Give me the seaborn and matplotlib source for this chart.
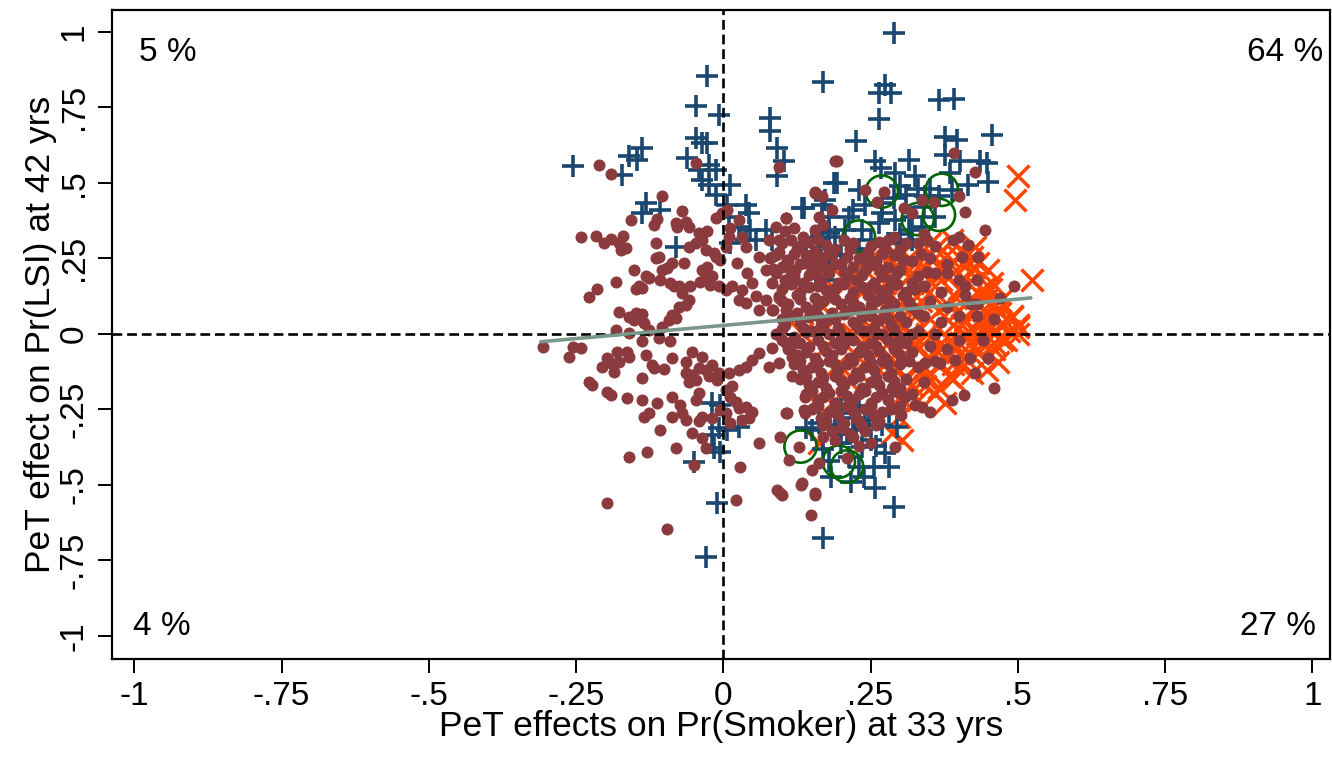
import numpy as np
import pandas as pd
import matplotlib
matplotlib.use("Agg")
import matplotlib.pyplot as plt
import seaborn as sns

sns.set_style("ticks")
plt.rcParams["font.family"] = ["Liberation Sans", "DejaVu Sans"]
plt.rcParams["text.color"] = "black"
plt.rcParams["axes.labelcolor"] = "black"
plt.rcParams["xtick.color"] = "black"
plt.rcParams["ytick.color"] = "black"

# ============================================
# DATA
# ============================================

# maroon dots: (x, y)
maroon_pts = [
    # left / upper scatter
    (-0.211, 0.56), (-0.19, 0.529), (-0.104, 0.455), (-0.07, 0.407), (-0.112, 0.38), (-0.118, 0.361),
    (-0.156, 0.377), (-0.08, 0.367), (-0.064, 0.369), (-0.059, 0.353), (-0.078, 0.355),
    (-0.241, 0.32), (-0.217, 0.325), (-0.203, 0.302), (-0.19, 0.314), (-0.177, 0.30), (-0.17, 0.325),
    (-0.174, 0.278), (-0.165, 0.284), (-0.115, 0.30), (-0.115, 0.25), (-0.109, 0.256), (-0.152, 0.212),
    (-0.132, 0.19), (-0.126, 0.184), (-0.138, 0.151), (-0.149, 0.148), (-0.143, 0.157), (-0.183, 0.173),
    (-0.214, 0.148), (-0.228, 0.122), (-0.177, 0.074), (-0.16, 0.057), (-0.149, 0.068), (-0.138, 0.066),
    (-0.152, 0.046), (-0.135, 0.035), (-0.183, 0.013), (-0.16, 0.002), (-0.126, 0.013), (-0.104, 0.024),
    (-0.092, 0.046), (-0.081, 0.052), (-0.087, 0.063), (-0.104, 0.212), (-0.095, 0.218), (-0.09, 0.168),
    (-0.084, 0.157), (-0.075, 0.157), (-0.107, 0.179), (-0.07, 0.135), (-0.059, 0.113), (-0.064, 0.096),
    (-0.075, 0.09), (-0.056, 0.157), (-0.039, 0.173), (-0.036, 0.212), (-0.027, 0.223), (-0.03, 0.19),
    (-0.019, 0.19), (-0.022, 0.162), (-0.008, 0.157), (-0.013, 0.256), (-0.005, 0.245), (-0.016, 0.267),
    (-0.03, 0.278), (-0.059, 0.289), (-0.047, 0.30), (-0.036, 0.311), (-0.042, 0.333), (-0.027, 0.339),
    (-0.067, 0.234), (-0.087, 0.234), (-0.047, 0.565), (0.094, 0.554),
    # just right of zero, upper
    (-0.002, 0.40), (-0.013, 0.383), (0.006, 0.41), (0.012, 0.35), (0.026, 0.377), (0.032, 0.322),
    (0.038, 0.289), (0.009, 0.322), (0.004, 0.289), (0.023, 0.234), (0.04, 0.201), (0.015, 0.157),
    (0.004, 0.146), (0.032, 0.146), (0.049, 0.168), (0.055, 0.124), (0.038, 0.102), (0.026, 0.113),
    (0.06, 0.256), (0.077, 0.311), (0.089, 0.355), (0.106, 0.383), (0.094, 0.311), (0.083, 0.256),
    (0.108, 0.245), (0.122, 0.212), (0.117, 0.168), (0.083, 0.168), (0.072, 0.212), (0.094, 0.124),
    (0.072, 0.113), (0.06, 0.079), (0.083, 0.079), (0.106, 0.079), (0.128, 0.124), (0.139, 0.157),
    (0.156, 0.201), (0.139, 0.234), (0.156, 0.466), (0.168, 0.455), (0.185, 0.41), (0.19, 0.571),
    (0.162, 0.388), (0.193, 0.571), (0.391, 0.60), (0.428, 0.537), (0.411, 0.405), (0.40, 0.455),
    (0.445, 0.344), (0.493, 0.157), (0.106, 0.383), (0.156, 0.471), (0.241, 0.477), (0.272, 0.471),
    (0.261, 0.438), (0.337, 0.444), (0.357, 0.438), (0.306, 0.416), (0.32, 0.40), (0.40, 0.322),
    (0.416, 0.295), (0.433, 0.256), (0.405, 0.256),
    # left, lower
    (-0.307, -0.042), (-0.256, -0.042), (-0.242, -0.047), (-0.262, -0.075), (-0.197, -0.08),
    (-0.191, -0.097), (-0.206, -0.108), (-0.18, -0.059), (-0.163, -0.059), (-0.16, -0.075),
    (-0.177, -0.092), (-0.186, -0.125), (-0.228, -0.158), (-0.223, -0.169), (-0.197, -0.191),
    (-0.191, -0.202), (-0.163, -0.213), (-0.138, -0.147), (-0.132, -0.07), (-0.138, -0.025),
    (-0.11, -0.014), (-0.09, -0.025), (-0.087, -0.081), (-0.121, -0.103), (-0.118, -0.114),
    (-0.101, -0.117), (-0.064, -0.092), (-0.053, -0.059), (-0.036, -0.075), (-0.042, -0.114),
    (-0.064, -0.13), (-0.053, -0.136), (-0.047, -0.152), (-0.059, -0.158), (-0.03, -0.119),
    (-0.025, -0.141), (-0.008, -0.13), (-0.011, -0.152), (-0.019, -0.103), (-0.138, -0.219),
    (-0.112, -0.229), (-0.087, -0.208), (-0.073, -0.235), (-0.07, -0.263), (-0.087, -0.274),
    (-0.064, -0.285), (-0.126, -0.263), (-0.135, -0.274), (-0.042, -0.196), (-0.047, -0.219),
    (-0.036, -0.274), (-0.042, -0.29), (-0.019, -0.279), (-0.005, -0.252), (-0.107, -0.318),
    (-0.081, -0.378), (-0.053, -0.329), (-0.03, -0.378), (-0.036, -0.345), (-0.05, -0.434),
    (-0.129, -0.39), (-0.16, -0.406), (-0.197, -0.561), (-0.095, -0.646),
    # just right of zero, lower
    (0.004, -0.185), (0.012, -0.208), (0.021, -0.224), (0.026, -0.246), (0.038, -0.241),
    (0.049, -0.257), (0.043, -0.279), (0.032, -0.285), (0.012, -0.296), (0.06, -0.362),
    (0.029, -0.439), (0.021, -0.55), (0.004, -0.263), (0.015, -0.174), (0.009, -0.13),
    (0.026, -0.119), (0.038, -0.108), (0.049, -0.086), (0.06, -0.064), (0.083, -0.047),
    (0.106, -0.031), (0.094, -0.097), (0.077, -0.108), (0.117, -0.075), (0.108, -0.263),
    (0.097, -0.34), (0.111, -0.417), (0.128, -0.373), (0.134, -0.494), (0.091, -0.517),
    (0.10, -0.533), (0.156, -0.533), (0.148, -0.599), (0.117, -0.141), (0.139, -0.208),
    (0.156, -0.241), (0.139, -0.263), (0.106, -0.263), (0.131, -0.50), (0.156, -0.527),
    (0.097, -0.527), (0.151, -0.45), (0.162, -0.428), (0.137, -0.252), (0.459, -0.18),
    (0.408, -0.202), (0.388, -0.219), (0.337, -0.241), (0.326, -0.235), (0.351, -0.257),
    (0.309, -0.208), (0.298, -0.196), (0.286, -0.18), (0.301, -0.268), (0.292, -0.373),
    (0.343, -0.097), (0.368, -0.097), (0.394, -0.086), (0.419, -0.081), (0.428, -0.13),
    (0.46, 0.05), (0.44, -0.02), (0.47, 0.12), (0.43, 0.10), (0.45, -0.08), (0.41, 0.16),
    (0.43, 0.18), (0.38, 0.20), (0.40, 0.06),
    # dense core
    (0.12, 0.35), (0.17, 0.36), (0.34, 0.33),
    (0.10, 0.30), (0.13, 0.29), (0.16, 0.31), (0.19, 0.28), (0.22, 0.30), (0.25, 0.29), (0.28, 0.31),
    (0.30, 0.28), (0.33, 0.30), (0.36, 0.29), (0.39, 0.31),
    (0.08, 0.25), (0.11, 0.24), (0.14, 0.26), (0.17, 0.25), (0.20, 0.23), (0.23, 0.25), (0.26, 0.24),
    (0.29, 0.26), (0.32, 0.24), (0.35, 0.25), (0.38, 0.23),
    (0.09, 0.20), (0.12, 0.19), (0.15, 0.21), (0.18, 0.20), (0.21, 0.19), (0.24, 0.21), (0.27, 0.19),
    (0.30, 0.21), (0.33, 0.19), (0.36, 0.20), (0.40, 0.18),
    (0.10, 0.15), (0.13, 0.14), (0.16, 0.16), (0.19, 0.15), (0.22, 0.14), (0.25, 0.16), (0.28, 0.15),
    (0.31, 0.14), (0.34, 0.16), (0.37, 0.14), (0.41, 0.13),
    (0.11, 0.10), (0.14, 0.09), (0.17, 0.11), (0.20, 0.10), (0.23, 0.09), (0.26, 0.11), (0.29, 0.10),
    (0.32, 0.09), (0.35, 0.11), (0.38, 0.09), (0.42, 0.10),
    (0.10, 0.05), (0.13, 0.04), (0.16, 0.06), (0.19, 0.05), (0.22, 0.04), (0.25, 0.06), (0.28, 0.05),
    (0.31, 0.04), (0.34, 0.06), (0.37, 0.04), (0.43, 0.06),
    (0.09, 0.00), (0.12, -0.01), (0.15, 0.01), (0.18, 0.00), (0.21, -0.01), (0.24, 0.01), (0.27, 0.00),
    (0.30, -0.01), (0.33, 0.01), (0.36, 0.00), (0.40, -0.02),
    (0.11, -0.05), (0.14, -0.06), (0.17, -0.04), (0.20, -0.05), (0.23, -0.06), (0.26, -0.04),
    (0.29, -0.05), (0.32, -0.06), (0.35, -0.04), (0.38, -0.05),
    (0.12, -0.10), (0.15, -0.11), (0.18, -0.09), (0.21, -0.10), (0.24, -0.11), (0.27, -0.09),
    (0.30, -0.10), (0.33, -0.11), (0.36, -0.09),
    (0.13, -0.15), (0.16, -0.16), (0.19, -0.14), (0.22, -0.15), (0.25, -0.16), (0.28, -0.14),
    (0.31, -0.15), (0.34, -0.16),
    (0.14, -0.20), (0.17, -0.21), (0.20, -0.19), (0.23, -0.20), (0.26, -0.21), (0.29, -0.19), (0.32, -0.20),
    (0.15, -0.25), (0.18, -0.26), (0.21, -0.24), (0.24, -0.25), (0.27, -0.26), (0.30, -0.24),
    (0.17, -0.30), (0.20, -0.31), (0.23, -0.29), (0.26, -0.30),
    (0.19, -0.35), (0.22, -0.34), (0.25, -0.36),
    (0.135, 0.32), (0.29, 0.32),
    (0.095, 0.27), (0.125, 0.28), (0.155, 0.27), (0.185, 0.26), (0.215, 0.28), (0.245, 0.27), (0.275, 0.28),
    (0.10, 0.22), (0.13, 0.23), (0.16, 0.22), (0.19, 0.23), (0.22, 0.22), (0.25, 0.23), (0.28, 0.22),
    (0.105, 0.18), (0.135, 0.17), (0.165, 0.18), (0.195, 0.17), (0.225, 0.18), (0.255, 0.17),
    (0.285, 0.18), (0.32, 0.17),
    (0.095, 0.12), (0.125, 0.13), (0.155, 0.12), (0.185, 0.13), (0.215, 0.12), (0.245, 0.13),
    (0.275, 0.12), (0.305, 0.13),
    (0.085, 0.08), (0.125, 0.07), (0.155, 0.08), (0.185, 0.07), (0.215, 0.08), (0.245, 0.07),
    (0.275, 0.08), (0.33, 0.07),
    (0.105, 0.03), (0.135, 0.02), (0.165, 0.03), (0.195, 0.02), (0.225, 0.03), (0.255, 0.02), (0.285, 0.03),
    (0.10, -0.02), (0.13, -0.03), (0.16, -0.02), (0.19, -0.03), (0.22, -0.02), (0.25, -0.03),
    (0.28, -0.02), (0.31, -0.03),
    (0.125, -0.07), (0.155, -0.08), (0.185, -0.07), (0.215, -0.08), (0.245, -0.07), (0.275, -0.08), (0.30, -0.07),
    (0.135, -0.12), (0.165, -0.13), (0.195, -0.12), (0.225, -0.13), (0.255, -0.12), (0.285, -0.13),
    (0.145, -0.17), (0.175, -0.18), (0.205, -0.17), (0.235, -0.18), (0.265, -0.17), (0.30, -0.18),
    (0.16, -0.22), (0.19, -0.23), (0.22, -0.22), (0.25, -0.23), (0.28, -0.22),
    (0.165, -0.28), (0.195, -0.27), (0.225, -0.28), (0.255, -0.27),
    (0.185, -0.32), (0.215, -0.33), (0.24, -0.32),
    (0.105, 0.34), (0.155, 0.345),
    (0.115, 0.31), (0.145, 0.305), (0.175, 0.295), (0.205, 0.31), (0.265, 0.305),
    (0.31, 0.30), (0.345, 0.31),
    (0.09, 0.26), (0.12, 0.265), (0.15, 0.245), (0.18, 0.27), (0.21, 0.255), (0.24, 0.245),
    (0.27, 0.265), (0.305, 0.245), (0.335, 0.265),
    (0.085, 0.215), (0.115, 0.205), (0.145, 0.195), (0.175, 0.215), (0.205, 0.205), (0.235, 0.195),
    (0.265, 0.215), (0.295, 0.20), (0.345, 0.205),
    (0.115, 0.165), (0.145, 0.155), (0.175, 0.145), (0.205, 0.165), (0.235, 0.155), (0.265, 0.145),
    (0.295, 0.165), (0.325, 0.15),
    (0.10, 0.11), (0.13, 0.115), (0.16, 0.095), (0.19, 0.115), (0.22, 0.105), (0.25, 0.095),
    (0.28, 0.115), (0.315, 0.105),
    (0.115, 0.06), (0.145, 0.055), (0.175, 0.045), (0.205, 0.065), (0.235, 0.055), (0.265, 0.045), (0.30, 0.06),
    (0.10, 0.015), (0.14, 0.005), (0.17, 0.015), (0.20, 0.00), (0.23, 0.015), (0.26, 0.00),
    (0.29, 0.015), (0.32, 0.00),
    (0.115, -0.04), (0.145, -0.045), (0.175, -0.055), (0.205, -0.035), (0.235, -0.045),
    (0.265, -0.055), (0.295, -0.035),
    (0.13, -0.09), (0.16, -0.095), (0.19, -0.10), (0.22, -0.09), (0.25, -0.095), (0.28, -0.10), (0.315, -0.09),
    (0.14, -0.14), (0.17, -0.145), (0.20, -0.155), (0.23, -0.14), (0.26, -0.145), (0.29, -0.155),
    (0.15, -0.19), (0.18, -0.195), (0.21, -0.205), (0.24, -0.19), (0.27, -0.195),
    (0.16, -0.24), (0.19, -0.245), (0.22, -0.255), (0.25, -0.24), (0.285, -0.25),
    (0.175, -0.29), (0.205, -0.295), (0.235, -0.305), (0.265, -0.29),
    (0.23, -0.37), (0.17, -0.34), (0.21, -0.41),
]

# navy plus signs: (x, y)
navy_pts = [
    (0.29, 0.995), (-0.027, 0.855), (0.17, 0.833), (0.275, 0.824), (0.264, 0.797), (0.285, 0.797),
    (0.366, 0.775), (0.391, 0.777), (-0.047, 0.753), (-0.008, 0.725), (0.08, 0.716), (0.08, 0.672),
    (0.265, 0.711), (-0.047, 0.648), (-0.036, 0.632), (-0.028, 0.632), (0.377, 0.653), (0.396, 0.642),
    (0.456, 0.659), (0.226, 0.637),
    (-0.255, 0.557), (-0.16, 0.589), (-0.147, 0.576), (-0.138, 0.615), (-0.172, 0.526), (-0.132, 0.433),
    (-0.138, 0.40), (-0.107, 0.41), (-0.081, 0.289), (-0.061, 0.582), (-0.042, 0.543), (-0.025, 0.56),
    (-0.013, 0.543), (-0.036, 0.51), (-0.025, 0.493), (-0.013, 0.46), (0.012, 0.493), (0.006, 0.427),
    (0.009, 0.388), (0.038, 0.427), (0.043, 0.40), (0.026, 0.355), (0.046, 0.344), (0.055, 0.311),
    (0.012, 0.30), (0.038, 0.311), (0.091, 0.615), (0.103, 0.571), (0.091, 0.521), (0.134, 0.416),
    (0.187, 0.499), (0.168, 0.427), (0.179, 0.388), (0.162, 0.317), (0.179, 0.333), (0.165, 0.245),
    (0.179, 0.234), (0.173, 0.179), (0.072, 0.344), (0.083, 0.311),
    (0.258, 0.571), (0.267, 0.549), (0.292, 0.532), (0.315, 0.576), (0.326, 0.521), (0.402, 0.571),
    (0.377, 0.593), (0.385, 0.532), (0.436, 0.571), (0.447, 0.565), (0.45, 0.504), (0.416, 0.493),
    (0.388, 0.477), (0.193, 0.499), (0.23, 0.477), (0.137, 0.416), (0.173, 0.444), (0.241, 0.427),
    (0.269, 0.433), (0.213, 0.388), (0.168, 0.344), (0.19, 0.322), (0.162, 0.311), (0.207, 0.344),
    (0.235, 0.344), (0.264, 0.367), (0.292, 0.377), (0.315, 0.344), (0.337, 0.355), (0.36, 0.388),
    (0.366, 0.455), (0.343, 0.455), (0.32, 0.388), (0.156, 0.256), (0.179, 0.223),
    (0.20, 0.26), (0.23, 0.28), (0.25, 0.31), (0.28, 0.30), (0.30, 0.33), (0.32, 0.31), (0.27, 0.40),
    (0.29, 0.45), (0.31, 0.46), (0.34, 0.42), (0.22, 0.41), (0.15, 0.30), (0.14, 0.27), (0.35, 0.48),
    (0.30, 0.49), (0.33, 0.48),
    (0.17, -0.677), (0.289, -0.572), (0.258, -0.511), (0.182, -0.473), (0.216, -0.489), (0.238, -0.473),
    (0.281, -0.439), (0.255, -0.439), (0.275, -0.395), (0.295, -0.307), (0.281, -0.257), (0.247, -0.285),
    (0.162, -0.296), (0.151, -0.318), (0.213, -0.406), (0.23, -0.439), (0.236, -0.373), (0.196, -0.263),
    (0.224, -0.318), (0.20, -0.25), (0.22, -0.28), (0.24, -0.30), (0.21, -0.33), (0.25, -0.35),
    (0.19, -0.30), (0.23, -0.24), (0.27, -0.30), (0.20, -0.36), (0.26, -0.37), (0.14, -0.31),
    (0.17, -0.38), (0.18, -0.42),
    (-0.019, -0.229), (-0.005, -0.235), (0.026, -0.307), (-0.008, -0.312), (0.006, -0.318),
    (-0.019, -0.334), (-0.016, -0.378), (-0.005, -0.39), (-0.05, -0.423), (-0.011, -0.561),
    (-0.03, -0.737),
]

# orange crosses: (x, y)
orange_pts = [
    (0.501, 0.521), (0.496, 0.444), (0.524, 0.179), (0.428, 0.289), (0.422, 0.256), (0.45, 0.212),
    (0.456, 0.168), (0.433, 0.234), (0.388, 0.311), (0.40, 0.256), (0.371, 0.212), (0.416, 0.234),
    (0.467, 0.079), (0.49, 0.057), (0.473, 0.035), (0.501, 0.024), (0.422, 0.079), (0.433, 0.035),
    (0.411, 0.046), (0.377, -0.229), (0.467, -0.092), (0.448, -0.119), (0.422, -0.13), (0.405, -0.108),
    (0.383, -0.141), (0.366, -0.18), (0.343, -0.147), (0.394, -0.053), (0.433, -0.064), (0.473, -0.02),
    (0.286, -0.329), (0.298, -0.274), (0.309, -0.152), (0.326, -0.108), (0.298, -0.119), (0.162, -0.362),
    (0.156, -0.224), (0.185, -0.229), (0.264, -0.119), (0.337, -0.119), (0.343, -0.174), (0.303, -0.351),
    (0.167, 0.19), (0.207, 0.179), (0.134, 0.002),
    (0.47, 0.11), (0.49, 0.06), (0.50, 0.03), (0.48, -0.02), (0.50, 0.00), (0.46, 0.00),
    (0.45, 0.12), (0.44, 0.08), (0.45, 0.03), (0.46, -0.05), (0.44, -0.03), (0.42, 0.00),
    (0.41, -0.08), (0.39, -0.10),
    (0.20, 0.10), (0.22, 0.00), (0.24, 0.15), (0.26, 0.05), (0.28, 0.20), (0.30, 0.10), (0.32, 0.00),
    (0.34, 0.15), (0.36, 0.25), (0.38, 0.10), (0.40, 0.15), (0.42, 0.12), (0.30, -0.05), (0.35, 0.05),
    (0.37, -0.03), (0.27, -0.05), (0.25, 0.25), (0.31, 0.22), (0.39, 0.20), (0.41, 0.00), (0.33, 0.28),
    (0.35, 0.30), (0.29, 0.27), (0.23, -0.08), (0.21, -0.15), (0.19, 0.05), (0.17, -0.05), (0.44, 0.15),
    (0.43, 0.00), (0.38, -0.06), (0.36, 0.12), (0.34, 0.22), (0.32, 0.07), (0.26, 0.12), (0.24, -0.02),
    (0.39, 0.03), (0.37, 0.18), (0.40, 0.08), (0.35, -0.08), (0.31, -0.02), (0.28, 0.08), (0.33, -0.05),
    (0.42, 0.20), (0.38, 0.26), (0.36, 0.20), (0.30, 0.16), (0.27, 0.14), (0.44, 0.05), (0.41, -0.05),
    (0.46, 0.10),
    (0.255, 0.09), (0.275, 0.17), (0.295, 0.04), (0.315, 0.19), (0.335, 0.11), (0.355, 0.17),
    (0.375, 0.06), (0.395, 0.12), (0.415, 0.17), (0.435, 0.13), (0.455, 0.06), (0.47, 0.03),
    (0.285, 0.24), (0.305, 0.27), (0.325, 0.23), (0.345, 0.26), (0.365, 0.29), (0.385, 0.23),
    (0.405, 0.27), (0.425, 0.22),
    (0.265, -0.01), (0.285, -0.08), (0.305, 0.02), (0.325, -0.03), (0.345, 0.00), (0.365, -0.06),
    (0.385, -0.02), (0.405, 0.03), (0.425, -0.04), (0.445, 0.00),
    (0.235, 0.05), (0.215, 0.18), (0.225, -0.12), (0.245, 0.20), (0.195, -0.10), (0.185, 0.12),
    (0.35, -0.13), (0.37, -0.10), (0.39, -0.15), (0.32, -0.17), (0.30, -0.21), (0.33, -0.22),
    (0.36, -0.20), (0.455, 0.15), (0.47, 0.07), (0.485, 0.01), (0.46, -0.03),
]

# green hollow circles: (x, y)
green_pts = [
    (0.269, 0.471), (0.371, 0.477), (0.366, 0.394), (0.23, 0.322), (0.33, 0.38),
    (0.131, -0.373), (0.196, -0.423), (0.21, -0.439),
]

# linear fit line (endpoints)
fit_x = [-0.31, 0.522]
fit_y = [-0.026, 0.119]

# quadrant shares
quad_text = ["5 %", "64 %", "4 %", "27 %"]

tick_vals = [-1, -0.75, -0.5, -0.25, 0, 0.25, 0.5, 0.75, 1]
tick_labels = ["-1", "-.75", "-.5", "-.25", "0", ".25", ".5", ".75", "1"]

MAROON = "#8b3a3e"
NAVY = "#1a476f"
ORANGE = "#ff4500"
GREEN = "#006400"
FIT = "#7b978b"

maroon = pd.DataFrame(maroon_pts, columns=["x", "y"])
navy = pd.DataFrame(navy_pts, columns=["x", "y"])
orange = pd.DataFrame(orange_pts, columns=["x", "y"])
green = pd.DataFrame(green_pts, columns=["x", "y"])

# ============================================
# PLOT
# ============================================

fig = plt.figure(figsize=(13.32, 7.59), dpi=100)
ax = fig.add_axes([0.0841, 0.1322, 0.9144, 0.8546])

sns.scatterplot(data=orange, x="x", y="y", marker="x", s=250, color=ORANGE,
                linewidth=2.5, ax=ax, zorder=2)
sns.scatterplot(data=navy, x="x", y="y", marker="+", s=230, color=NAVY,
                linewidth=2.6, ax=ax, zorder=2)
sns.scatterplot(data=green, x="x", y="y", marker="o", s=540, color=GREEN,
                facecolor="none", edgecolor=GREEN, linewidth=1.9, ax=ax, zorder=2)
sns.scatterplot(data=maroon, x="x", y="y", marker="o", s=75, color=MAROON,
                linewidth=0, ax=ax, zorder=2)

ax.axvline(0, color="black", lw=1.9, ls=(0, (3.7, 1.85)), zorder=3)
ax.axhline(0, color="black", lw=1.9, ls=(0, (3.7, 1.85)), zorder=3)

sns.lineplot(x=fit_x, y=fit_y, color=FIT, lw=2.6, ax=ax, zorder=4)

ax.set_xlim(-1.038, 1.03)
ax.set_ylim(-1.075, 1.072)
ax.set_xticks(tick_vals)
ax.set_xticklabels(tick_labels)
ax.set_yticks(tick_vals)
ax.set_yticklabels(tick_labels, rotation=90, va="center")
ax.tick_params(axis="both", length=10, width=1.4, labelsize=24, pad=6, color="black")

for sp in ax.spines.values():
    sp.set_linewidth(1.6)
    sp.set_color("black")

ax.set_xlabel("PeT effects on Pr(Smoker) at 33 yrs", fontsize=25.5, labelpad=-1)
ax.set_ylabel("PeT effect on Pr(LSI) at 42 yrs", fontsize=25.5, labelpad=1)

ax.text(-0.993, 0.904, quad_text[0], fontsize=24, ha="left", va="baseline")
ax.text(1.019, 0.904, quad_text[1], fontsize=24, ha="right", va="baseline")
ax.text(-1.003, -0.997, quad_text[2], fontsize=24, ha="left", va="baseline")
ax.text(1.007, -0.997, quad_text[3], fontsize=24, ha="right", va="baseline")

fig.savefig("out.png", dpi=100)
